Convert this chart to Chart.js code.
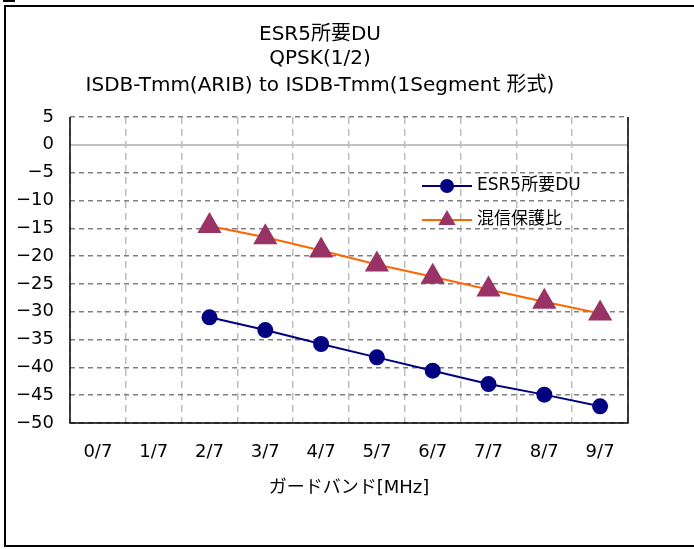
<!DOCTYPE html>
<html>
<head>
<meta charset="utf-8">
<script src="https://cdn.jsdelivr.net/npm/chart.js@4/dist/chart.umd.min.js"></script>
<style>
html,body{margin:0;padding:0;background:#fff;}
#wrap{position:relative;width:694px;height:549px;}
</style>
</head>
<body>
<div id="wrap"><canvas id="c" width="694" height="549"></canvas></div>
<script>
const titleLines = ['ESR5所要DU', 'QPSK(1/2)', 'ISDB-Tmm(ARIB) to ISDB-Tmm(1Segment 形式)'];
const categories = ['0/7','1/7','2/7','3/7','4/7','5/7','6/7','7/7','8/7','9/7'];
const esrDU = [null, null, -31.0, -33.3, -35.8, -38.2, -40.6, -43.0, -44.9, -47.0];
const protectionRatio = [null, null, -14.6, -16.6, -19.0, -21.5, -23.7, -26.0, -28.2, -30.3];
const seriesNames = ['ESR5所要DU', '混信保護比'];
const xTitle = 'ガードバンド[MHz]';
const yMin = -50, yMax = 5, yStep = 5;

const FONT = '"DejaVu Sans", "Noto Sans CJK JP", sans-serif';

const decor = {
  id: 'decor',
  beforeDraw(chart) {
    const ctx = chart.ctx;
    ctx.save();
    ctx.fillStyle = '#fff';
    ctx.fillRect(0, 0, chart.width, chart.height);
    // outer frame
    ctx.strokeStyle = '#000';
    ctx.lineWidth = 2;
    ctx.beginPath();
    ctx.moveTo(700, 6);
    ctx.lineTo(5, 6);
    ctx.lineTo(5, 546);
    ctx.lineTo(700, 546);
    ctx.stroke();
    ctx.fillStyle = '#000';
    ctx.fillRect(3, 0, 12, 2);
    // title
    ctx.fillStyle = '#000';
    ctx.font = '20px ' + FONT;
    ctx.textAlign = 'center';
    ctx.textBaseline = 'middle';
    const ys = [35, 59, 86];
    titleLines.forEach((t, i) => ctx.fillText(t, 320, ys[i]));
    ctx.restore();
  },
  beforeDatasetsDraw(chart) {
    const ctx = chart.ctx, a = chart.chartArea, y = chart.scales.y;
    ctx.save();
    // zero line
    const y0 = Math.round(y.getPixelForValue(0));
    ctx.strokeStyle = '#c0c0c0';
    ctx.lineWidth = 2;
    ctx.beginPath();
    ctx.moveTo(a.left, y0);
    ctx.lineTo(a.right, y0);
    ctx.stroke();
    // plot border: left, bottom, right
    ctx.strokeStyle = '#000';
    ctx.lineWidth = 1.5;
    ctx.beginPath();
    ctx.moveTo(a.left, a.top);
    ctx.lineTo(a.left, a.bottom);
    ctx.lineTo(a.right, a.bottom);
    ctx.lineTo(a.right, a.top);
    ctx.stroke();
    ctx.restore();
  },
  afterDraw(chart) {
    // legend inside plot
    const ctx = chart.ctx;
    ctx.save();
    const rows = [186, 220];
    chart.data.datasets.forEach((ds, i) => {
      const yy = rows[i];
      ctx.strokeStyle = ds.borderColor;
      ctx.lineWidth = 2;
      ctx.beginPath();
      ctx.moveTo(422, yy);
      ctx.lineTo(472, yy);
      ctx.stroke();
      ctx.fillStyle = ds.pointBackgroundColor;
      ctx.beginPath();
      if (ds.pointStyle === 'triangle') {
        const r = 10;
        ctx.moveTo(447, yy - r);
        ctx.lineTo(447 + r * 0.866, yy + r / 2);
        ctx.lineTo(447 - r * 0.866, yy + r / 2);
        ctx.closePath();
      } else {
        ctx.arc(447, yy, 7, 0, Math.PI * 2);
      }
      ctx.fill();
      ctx.fillStyle = '#000';
      ctx.font = '17px ' + FONT;
      ctx.textAlign = 'left';
      ctx.textBaseline = 'middle';
      ctx.fillText(ds.label, 477, yy);
    });
    ctx.restore();
  }
};

new Chart(document.getElementById('c'), {
  type: 'line',
  data: {
    labels: categories,
    datasets: [
      {
        label: seriesNames[0],
        data: esrDU,
        borderColor: '#000080',
        backgroundColor: '#000080',
        pointBackgroundColor: '#000080',
        pointBorderColor: '#000080',
        pointStyle: 'circle',
        pointRadius: 8,
        borderWidth: 2,
        pointBorderWidth: 0,
        tension: 0
      },
      {
        label: seriesNames[1],
        data: protectionRatio,
        borderColor: '#FF6600',
        backgroundColor: '#993366',
        pointBackgroundColor: '#993366',
        pointBorderColor: '#993366',
        pointStyle: 'triangle',
        pointRadius: 14,
        borderWidth: 2,
        pointBorderWidth: 0,
        tension: 0
      }
    ]
  },
  options: {
    responsive: false,
    animation: false,
    devicePixelRatio: 1,
    layout: { padding: { left: 0, right: 66, top: 117, bottom: 0 } },
    plugins: {
      legend: { display: false },
      title: { display: false },
      tooltip: { enabled: false }
    },
    scales: {
      x: {
        type: 'category',
        offset: true,
        grid: {
          offset: true,
          color: '#bdbdbd',
          lineWidth: 1.5,
          drawTicks: false
        },
        border: { display: false, dash: [7, 5] },
        ticks: {
          color: '#000',
          font: { family: FONT, size: 18 },
          padding: 19,
          maxRotation: 0,
          autoSkip: false
        },
        title: {
          display: true,
          text: xTitle,
          color: '#000',
          font: { family: FONT, size: 18 },
          padding: { top: 4, bottom: 50 }
        },
        afterFit(s) { s.height = 126; }
      },
      y: {
        min: yMin,
        max: yMax,
        grid: {
          color: (c) => (c.tick && c.tick.value === 0) ? 'rgba(0,0,0,0)' : '#808080',
          lineWidth: 1.5,
          drawTicks: false
        },
        border: { display: false, dash: [5, 4] },
        ticks: {
          stepSize: yStep,
          color: '#000',
          font: { family: FONT, size: 18 },
          padding: 16,
          callback: (v) => String(v).replace('-', '−')
        },
        afterFit(s) { s.width = 70; }
      }
    }
  },
  plugins: [decor]
});
</script>
</body>
</html>
